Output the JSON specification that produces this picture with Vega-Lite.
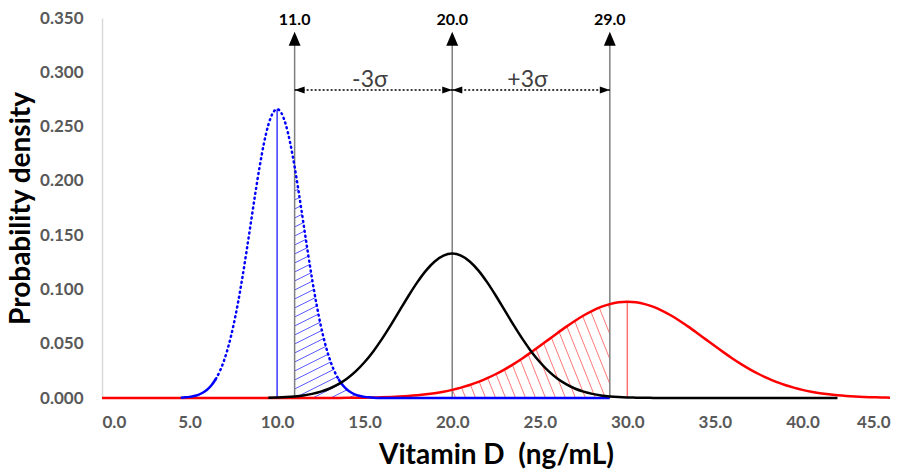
{
  "$schema": "https://vega.github.io/schema/vega-lite/v6.json",
  "width": 788,
  "height": 380,
  "autosize": "none",
  "padding": {"left": 102, "top": 18, "right": 15, "bottom": 77},
  "config": {"view": {"stroke": null}, "font": "Lato", "axis": {"grid": false}},
  "datasets": {
    "curves": [
      {"series":"red","x":0,"y":0},{"series":"red","x":11,"y":0.00001},{"series":"red","x":12,"y":0.00003},{"series":"red","x":13,"y":0.00007},{"series":"red","x":14,"y":0.00016},{"series":"red","x":15,"y":0.00034},{"series":"red","x":15.5,"y":0.00049},{"series":"red","x":16,"y":0.0007},{"series":"red","x":16.5,"y":0.00098},{"series":"red","x":17,"y":0.00137},{"series":"red","x":17.5,"y":0.00187},{"series":"red","x":18,"y":0.00253},{"series":"red","x":18.5,"y":0.00338},{"series":"red","x":19,"y":0.00447},{"series":"red","x":19.5,"y":0.00583},{"series":"red","x":20,"y":0.00751},{"series":"red","x":20.5,"y":0.00955},{"series":"red","x":21,"y":0.012},{"series":"red","x":21.5,"y":0.01489},{"series":"red","x":22,"y":0.01826},{"series":"red","x":22.5,"y":0.02211},{"series":"red","x":23,"y":0.02644},{"series":"red","x":23.5,"y":0.03124},{"series":"red","x":24,"y":0.03645},{"series":"red","x":24.5,"y":0.04201},{"series":"red","x":25,"y":0.04782},{"series":"red","x":25.5,"y":0.05377},{"series":"red","x":26,"y":0.05972},{"series":"red","x":26.5,"y":0.06552},{"series":"red","x":27,"y":0.07099},{"series":"red","x":27.5,"y":0.07598},{"series":"red","x":28,"y":0.08032},{"series":"red","x":28.5,"y":0.08386},{"series":"red","x":29,"y":0.08649},{"series":"red","x":29.5,"y":0.08811},{"series":"red","x":30,"y":0.08865},{"series":"red","x":30.5,"y":0.08811},{"series":"red","x":31,"y":0.08649},{"series":"red","x":31.5,"y":0.08386},{"series":"red","x":32,"y":0.08032},{"series":"red","x":32.5,"y":0.07598},{"series":"red","x":33,"y":0.07099},{"series":"red","x":33.5,"y":0.06552},{"series":"red","x":34,"y":0.05972},{"series":"red","x":34.5,"y":0.05377},{"series":"red","x":35,"y":0.04782},{"series":"red","x":35.5,"y":0.04201},{"series":"red","x":36,"y":0.03645},{"series":"red","x":36.5,"y":0.03124},{"series":"red","x":37,"y":0.02644},{"series":"red","x":37.5,"y":0.02211},{"series":"red","x":38,"y":0.01826},{"series":"red","x":38.5,"y":0.01489},{"series":"red","x":39,"y":0.012},{"series":"red","x":39.5,"y":0.00955},{"series":"red","x":40,"y":0.00751},{"series":"red","x":40.5,"y":0.00583},{"series":"red","x":41,"y":0.00447},{"series":"red","x":41.5,"y":0.00338},{"series":"red","x":42,"y":0.00253},{"series":"red","x":42.5,"y":0.00187},{"series":"red","x":43,"y":0.00137},{"series":"red","x":43.5,"y":0.00098},{"series":"red","x":44,"y":0.0007},{"series":"red","x":44.5,"y":0.00049},{"series":"red","x":45,"y":0.00034},
      {"series":"black","x":9.5,"y":0.00029},{"series":"black","x":10,"y":0.00051},{"series":"black","x":10.5,"y":0.00088},{"series":"black","x":11,"y":0.00148},{"series":"black","x":11.5,"y":0.0024},{"series":"black","x":12,"y":0.0038},{"series":"black","x":12.5,"y":0.00584},{"series":"black","x":13,"y":0.00874},{"series":"black","x":13.5,"y":0.01272},{"series":"black","x":14,"y":0.018},{"series":"black","x":14.5,"y":0.02477},{"series":"black","x":15,"y":0.03316},{"series":"black","x":15.5,"y":0.04317},{"series":"black","x":16,"y":0.05467},{"series":"black","x":16.5,"y":0.06733},{"series":"black","x":17,"y":0.08066},{"series":"black","x":17.5,"y":0.09397},{"series":"black","x":18,"y":0.10648},{"series":"black","x":18.5,"y":0.11736},{"series":"black","x":19,"y":0.12579},{"series":"black","x":19.5,"y":0.13115},{"series":"black","x":20,"y":0.13298},{"series":"black","x":20.5,"y":0.13115},{"series":"black","x":21,"y":0.12579},{"series":"black","x":21.5,"y":0.11736},{"series":"black","x":22,"y":0.10648},{"series":"black","x":22.5,"y":0.09397},{"series":"black","x":23,"y":0.08066},{"series":"black","x":23.5,"y":0.06733},{"series":"black","x":24,"y":0.05467},{"series":"black","x":24.5,"y":0.04317},{"series":"black","x":25,"y":0.03316},{"series":"black","x":25.5,"y":0.02477},{"series":"black","x":26,"y":0.018},{"series":"black","x":26.5,"y":0.01272},{"series":"black","x":27,"y":0.00874},{"series":"black","x":27.5,"y":0.00584},{"series":"black","x":28,"y":0.0038},{"series":"black","x":28.5,"y":0.0024},{"series":"black","x":29,"y":0.00148},{"series":"black","x":29.5,"y":0.00088},{"series":"black","x":30,"y":0.00051},{"series":"black","x":30.5,"y":0.00029},{"series":"black","x":31,"y":0.00016},{"series":"black","x":31.5,"y":0.00009},{"series":"black","x":32,"y":0.00004},{"series":"black","x":42,"y":0},
      {"series":"blue","x":4.5,"y":0.00032},{"series":"blue","x":4.75,"y":0.00058},{"series":"blue","x":5,"y":0.00103},{"series":"blue","x":5.25,"y":0.00177},{"series":"blue","x":5.5,"y":0.00295},{"series":"blue","x":5.75,"y":0.0048},{"series":"blue","x":6,"y":0.0076},{"series":"blue","x":6.25,"y":0.01169},{"series":"blue","x":6.5,"y":0.01748},{"series":"blue","x":6.75,"y":0.02544},{"series":"blue","x":7,"y":0.03599},{"series":"blue","x":7.25,"y":0.04954},{"series":"blue","x":7.5,"y":0.06632},{"series":"blue","x":7.75,"y":0.08635},{"series":"blue","x":8,"y":0.10934},{"series":"blue","x":8.25,"y":0.13467},{"series":"blue","x":8.5,"y":0.16131},{"series":"blue","x":8.75,"y":0.18794},{"series":"blue","x":9,"y":0.21297},{"series":"blue","x":9.25,"y":0.23471},{"series":"blue","x":9.5,"y":0.25159},{"series":"blue","x":9.75,"y":0.26229},{"series":"blue","x":10,"y":0.26596},{"series":"blue","x":10.25,"y":0.26229},{"series":"blue","x":10.5,"y":0.25159},{"series":"blue","x":10.75,"y":0.23471},{"series":"blue","x":11,"y":0.21297},{"series":"blue","x":11.25,"y":0.18794},{"series":"blue","x":11.5,"y":0.16131},{"series":"blue","x":11.75,"y":0.13467},{"series":"blue","x":12,"y":0.10934},{"series":"blue","x":12.25,"y":0.08635},{"series":"blue","x":12.5,"y":0.06632},{"series":"blue","x":12.75,"y":0.04954},{"series":"blue","x":13,"y":0.03599},{"series":"blue","x":13.25,"y":0.02544},{"series":"blue","x":13.5,"y":0.01748},{"series":"blue","x":13.75,"y":0.01169},{"series":"blue","x":14,"y":0.0076},{"series":"blue","x":14.25,"y":0.0048},{"series":"blue","x":14.5,"y":0.00295},{"series":"blue","x":14.75,"y":0.00177},{"series":"blue","x":15,"y":0.00103},{"series":"blue","x":15.25,"y":0.00058},{"series":"blue","x":15.5,"y":0.00032},{"series":"blue","x":16,"y":0.00009},{"series":"blue","x":17,"y":0},{"series":"blue","x":29,"y":0}
    ],
    "hatch": [
      {"series":"blue","x":14.084,"y":0,"x2":15.5,"y2":0.01142},
      {"series":"blue","x":13.056,"y":0,"x2":15.5,"y2":0.01971},
      {"series":"blue","x":12.028,"y":0,"x2":15.5,"y2":0.028},
      {"series":"blue","x":11,"y":0,"x2":15.5,"y2":0.03629},
      {"series":"blue","x":11,"y":0.00829,"x2":15.5,"y2":0.04458},
      {"series":"blue","x":11,"y":0.01658,"x2":15.5,"y2":0.05287},
      {"series":"blue","x":11,"y":0.02487,"x2":15.5,"y2":0.06116},
      {"series":"blue","x":11,"y":0.03316,"x2":15.5,"y2":0.06945},
      {"series":"blue","x":11,"y":0.04145,"x2":15.5,"y2":0.07774},
      {"series":"blue","x":11,"y":0.04974,"x2":15.5,"y2":0.08603},
      {"series":"blue","x":11,"y":0.05803,"x2":15.5,"y2":0.09432},
      {"series":"blue","x":11,"y":0.06632,"x2":15.5,"y2":0.10261},
      {"series":"blue","x":11,"y":0.07461,"x2":15.5,"y2":0.1109},
      {"series":"blue","x":11,"y":0.0829,"x2":15.5,"y2":0.11919},
      {"series":"blue","x":11,"y":0.09119,"x2":15.5,"y2":0.12748},
      {"series":"blue","x":11,"y":0.09948,"x2":15.5,"y2":0.13577},
      {"series":"blue","x":11,"y":0.10777,"x2":15.5,"y2":0.14406},
      {"series":"blue","x":11,"y":0.11606,"x2":15.5,"y2":0.15235},
      {"series":"blue","x":11,"y":0.12435,"x2":15.5,"y2":0.16064},
      {"series":"blue","x":11,"y":0.13264,"x2":15.5,"y2":0.16893},
      {"series":"blue","x":11,"y":0.14093,"x2":15.5,"y2":0.17722},
      {"series":"blue","x":11,"y":0.14922,"x2":15.5,"y2":0.18551},
      {"series":"blue","x":11,"y":0.15751,"x2":15.5,"y2":0.1938},
      {"series":"blue","x":11,"y":0.1658,"x2":15.5,"y2":0.20209},
      {"series":"blue","x":11,"y":0.17409,"x2":15.5,"y2":0.21038},
      {"series":"blue","x":11,"y":0.18238,"x2":15.5,"y2":0.21867},
      {"series":"blue","x":11,"y":0.19067,"x2":15.5,"y2":0.22696},
      {"series":"blue","x":11,"y":0.19896,"x2":15.5,"y2":0.23525},
      {"series":"blue","x":11,"y":0.20725,"x2":15.5,"y2":0.24354},
      {"series":"red","x":20,"y":0.00806,"x2":20.2,"y2":0},
      {"series":"red","x":20,"y":0.03105,"x2":20.77,"y2":0},
      {"series":"red","x":20,"y":0.05403,"x2":21.34,"y2":0},
      {"series":"red","x":20,"y":0.07701,"x2":21.91,"y2":0},
      {"series":"red","x":20.08,"y":0.0968,"x2":22.48,"y2":0},
      {"series":"red","x":20.65,"y":0.0968,"x2":23.05,"y2":0},
      {"series":"red","x":21.22,"y":0.0968,"x2":23.62,"y2":0},
      {"series":"red","x":21.79,"y":0.0968,"x2":24.19,"y2":0},
      {"series":"red","x":22.36,"y":0.0968,"x2":24.76,"y2":0},
      {"series":"red","x":22.93,"y":0.0968,"x2":25.33,"y2":0},
      {"series":"red","x":23.5,"y":0.0968,"x2":25.9,"y2":0},
      {"series":"red","x":24.07,"y":0.0968,"x2":26.47,"y2":0},
      {"series":"red","x":24.64,"y":0.0968,"x2":27.04,"y2":0},
      {"series":"red","x":25.21,"y":0.0968,"x2":27.61,"y2":0},
      {"series":"red","x":25.78,"y":0.0968,"x2":28.18,"y2":0},
      {"series":"red","x":26.35,"y":0.0968,"x2":28.75,"y2":0},
      {"series":"red","x":26.92,"y":0.0968,"x2":29,"y2":0.0129},
      {"series":"red","x":27.49,"y":0.0968,"x2":29,"y2":0.03588},
      {"series":"red","x":28.06,"y":0.0968,"x2":29,"y2":0.05887},
      {"series":"red","x":28.63,"y":0.0968,"x2":29,"y2":0.08185}
    ],
    "cuts": [{"x":11,"label":"11.0"},{"x":20,"label":"20.0"},{"x":29,"label":"29.0"}],
    "spans": [{"x":11,"x2":20,"mid":15.3,"label":"-3σ"},{"x":20,"x2":29,"mid":24.3,"label":"+3σ"}],
    "means": [{"series":"blue","x":10,"y":0.266},{"series":"red","x":30,"y":0.0887}]
  },
  "layer": [
    {
      "data": {"name": "hatch"},
      "transform": [{"filter": "datum.series === 'blue'"}],
      "mark": {"type": "rule", "color": "#5a5aff", "strokeWidth": 1},
      "encoding": {
        "x": {"field": "x", "type": "quantitative", "scale": {"domain": [0, 45], "nice": false, "zero": false},
          "axis": {"values": [0,5,10,15,20,25,30,35,40,45], "format": ".1f", "ticks": false, "domain": false,
            "labelFont": "Lato", "labelFontWeight": "bold", "labelFontSize": 17, "labelColor": "#595959", "labelPadding": 16,
            "title": "Vitamin D\u00a0 (ng/mL)", "titleFont": "Lato", "titleFontSize": 28, "titleFontWeight": "bold", "titleColor": "#000000", "titlePadding": 11}},
        "y": {"field": "y", "type": "quantitative", "scale": {"domain": [0, 0.35], "nice": false},
          "axis": {"values": [0,0.05,0.1,0.15,0.2,0.25,0.3,0.35], "format": ".3f", "ticks": false, "domain": true, "domainColor": "#d9d9d9", "domainWidth": 1.5,
            "labelFont": "Lato", "labelFontWeight": "bold", "labelFontSize": 17, "labelColor": "#595959", "labelPadding": 19,
            "title": "Probability density", "titleFont": "Lato", "titleFontSize": 28, "titleFontWeight": "bold", "titleColor": "#000000", "titlePadding": 4}},
        "x2": {"field": "x2"},
        "y2": {"field": "y2"}
      }
    },
    {
      "data": {"name": "hatch"},
      "transform": [{"filter": "datum.series === 'red'"}],
      "mark": {"type": "rule", "color": "#ff7878", "strokeWidth": 1},
      "encoding": {
        "x": {"field": "x", "type": "quantitative"},
        "y": {"field": "y", "type": "quantitative"},
        "x2": {"field": "x2"},
        "y2": {"field": "y2"}
      }
    },
    {
      "data": {"name": "curves"},
      "transform": [{"filter": "datum.series === 'blue' && datum.x >= 11 && datum.x <= 16"}],
      "mark": {"type": "area", "color": "#ffffff", "opacity": 1, "interpolate": "monotone"},
      "encoding": {
        "x": {"field": "x", "type": "quantitative"},
        "y": {"field": "y", "type": "quantitative"},
        "y2": {"datum": 0.26}
      }
    },
    {
      "data": {"name": "curves"},
      "transform": [{"filter": "datum.series === 'red' && datum.x >= 20 && datum.x <= 29"}],
      "mark": {"type": "area", "color": "#ffffff", "opacity": 1, "interpolate": "monotone"},
      "encoding": {
        "x": {"field": "x", "type": "quantitative"},
        "y": {"field": "y", "type": "quantitative"},
        "y2": {"datum": 0.1}
      }
    },
    {
      "data": {"name": "means"},
      "transform": [{"filter": "datum.series === 'blue'"}],
      "mark": {"type": "rule", "color": "#3a3aff", "strokeWidth": 1.5},
      "encoding": {
        "x": {"field": "x", "type": "quantitative"},
        "y": {"field": "y", "type": "quantitative"},
        "y2": {"datum": 0}
      }
    },
    {
      "data": {"name": "means"},
      "transform": [{"filter": "datum.series === 'red'"}],
      "mark": {"type": "rule", "color": "#ff7070", "strokeWidth": 1.5},
      "encoding": {
        "x": {"field": "x", "type": "quantitative"},
        "y": {"field": "y", "type": "quantitative"},
        "y2": {"datum": 0}
      }
    },
    {
      "data": {"name": "cuts"},
      "mark": {"type": "rule", "color": "#7f7f7f", "strokeWidth": 1.5},
      "encoding": {
        "x": {"field": "x", "type": "quantitative"},
        "y": {"datum": 0.33, "type": "quantitative"},
        "y2": {"datum": 0}
      }
    },
    {
      "data": {"name": "curves"},
      "transform": [{"filter": "datum.series === 'red'"}],
      "mark": {"type": "line", "color": "#ff0000", "strokeWidth": 2.5, "interpolate": "monotone"},
      "encoding": {
        "x": {"field": "x", "type": "quantitative"},
        "y": {"field": "y", "type": "quantitative"}
      }
    },
    {
      "data": {"name": "curves"},
      "transform": [{"filter": "datum.series === 'blue' && datum.x >= 6.5 && datum.x <= 13.5"}],
      "mark": {"type": "line", "color": "#0000ff", "strokeWidth": 2.5, "strokeDash": [1, 4], "strokeCap": "round", "interpolate": "monotone"},
      "encoding": {
        "x": {"field": "x", "type": "quantitative"},
        "y": {"field": "y", "type": "quantitative"}
      }
    },
    {
      "data": {"name": "curves"},
      "transform": [{"filter": "datum.series === 'blue' && datum.x <= 6.5"}],
      "mark": {"type": "line", "color": "#0000ff", "strokeWidth": 2.5, "interpolate": "monotone"},
      "encoding": {
        "x": {"field": "x", "type": "quantitative"},
        "y": {"field": "y", "type": "quantitative"}
      }
    },
    {
      "data": {"name": "curves"},
      "transform": [{"filter": "datum.series === 'blue' && datum.x >= 13.5"}],
      "mark": {"type": "line", "color": "#0000ff", "strokeWidth": 2.5, "interpolate": "monotone"},
      "encoding": {
        "x": {"field": "x", "type": "quantitative"},
        "y": {"field": "y", "type": "quantitative"}
      }
    },
    {
      "data": {"name": "curves"},
      "transform": [{"filter": "datum.series === 'black'"}],
      "mark": {"type": "line", "color": "#000000", "strokeWidth": 2.5, "interpolate": "monotone"},
      "encoding": {
        "x": {"field": "x", "type": "quantitative"},
        "y": {"field": "y", "type": "quantitative"}
      }
    },
    {
      "data": {"name": "spans"},
      "mark": {"type": "rule", "color": "#000000", "strokeWidth": 1.3, "strokeDash": [2, 2]},
      "encoding": {
        "x": {"field": "x", "type": "quantitative"},
        "x2": {"field": "x2"},
        "y": {"datum": 0.2837, "type": "quantitative"}
      }
    },
    {
      "data": {"name": "spans"},
      "mark": {"type": "point", "shape": "M0,0L2,-0.7L2,0.7Z", "size": 100, "filled": true, "color": "#000000", "opacity": 1, "strokeWidth": 0},
      "encoding": {
        "x": {"field": "x", "type": "quantitative"},
        "y": {"datum": 0.2837, "type": "quantitative"}
      }
    },
    {
      "data": {"name": "spans"},
      "mark": {"type": "point", "shape": "M0,0L-2,-0.7L-2,0.7Z", "size": 100, "filled": true, "color": "#000000", "opacity": 1, "strokeWidth": 0},
      "encoding": {
        "x": {"field": "x2", "type": "quantitative"},
        "y": {"datum": 0.2837, "type": "quantitative"}
      }
    },
    {
      "data": {"name": "spans"},
      "mark": {"type": "text", "font": "Lato", "fontSize": 23, "color": "#404040", "baseline": "alphabetic", "align": "center"},
      "encoding": {
        "x": {"field": "mid", "type": "quantitative"},
        "y": {"datum": 0.2865, "type": "quantitative"},
        "text": {"field": "label"}
      }
    },
    {
      "data": {"name": "cuts"},
      "mark": {"type": "point", "shape": "M0,0L0.85,2L-0.85,2Z", "size": 196, "filled": true, "color": "#000000", "opacity": 1, "strokeWidth": 0},
      "encoding": {
        "x": {"field": "x", "type": "quantitative"},
        "y": {"datum": 0.3374, "type": "quantitative"}
      }
    },
    {
      "data": {"name": "cuts"},
      "mark": {"type": "text", "font": "Lato", "fontSize": 16, "fontWeight": "bold", "color": "#000000", "baseline": "alphabetic", "align": "center"},
      "encoding": {
        "x": {"field": "x", "type": "quantitative"},
        "y": {"datum": 0.3436, "type": "quantitative"},
        "text": {"field": "label"}
      }
    }
  ]
}
